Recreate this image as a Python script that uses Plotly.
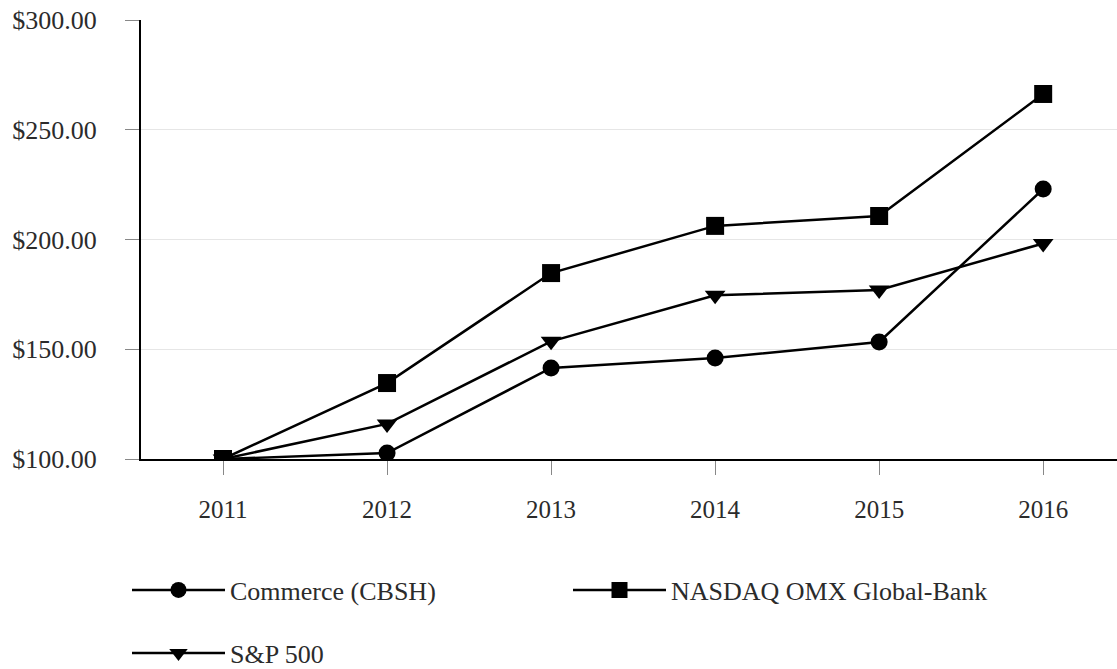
import plotly.graph_objects as go

years = ["2011", "2012", "2013", "2014", "2015", "2016"]
commerce = [100.00, 102.7, 141.5, 146.0, 153.3, 223.0]
nasdaq_bank = [100.00, 134.6, 184.7, 206.2, 210.7, 266.3]
sp500 = [100.00, 116.0, 153.6, 174.6, 177.0, 198.2]

y_ticks = [100, 150, 200, 250, 300]
y_tick_labels = ["$100.00", "$150.00", "$200.00", "$250.00", "$300.00"]

FONT = "Times New Roman, Liberation Serif, DejaVu Serif, serif"
TXT = "#2b2b2b"

fig = go.Figure()
fig.add_trace(go.Scatter(
    x=years, y=commerce, name="Commerce (CBSH)", mode="lines+markers",
    line=dict(color="black", width=2.5),
    marker=dict(symbol="circle", size=17, color="black"),
    legend="legend",
))
fig.add_trace(go.Scatter(
    x=years, y=nasdaq_bank, name="NASDAQ OMX Global-Bank", mode="lines+markers",
    line=dict(color="black", width=2.5),
    marker=dict(symbol="square", size=18, color="black"),
    legend="legend",
))
fig.add_trace(go.Scatter(
    x=years, y=sp500, name="S&P 500", mode="lines+markers",
    line=dict(color="black", width=2.5),
    marker=dict(symbol="triangle-down", size=18, color="black"),
    legend="legend2",
))

LEG_X = 127 / 1117

fig.update_layout(
    width=1117, height=669,
    margin=dict(l=141, r=0, t=20, b=210),
    paper_bgcolor="white", plot_bgcolor="white",
    font=dict(family=FONT, size=25, color=TXT),
    showlegend=True,
    legend=dict(
        orientation="h", xref="container", yref="container",
        x=LEG_X, y=1 - 590 / 669, xanchor="left", yanchor="middle",
        entrywidth=333, entrywidthmode="pixels", itemwidth=93,
        font=dict(family=FONT, size=26, color=TXT),
        bgcolor="rgba(0,0,0,0)", itemclick=False,
    ),
    legend2=dict(
        orientation="h", xref="container", yref="container",
        x=LEG_X, y=1 - 653 / 669, xanchor="left", yanchor="middle",
        itemwidth=93,
        font=dict(family=FONT, size=26, color=TXT),
        bgcolor="rgba(0,0,0,0)", itemclick=False,
    ),
)

fig.update_xaxes(
    type="category", range=[-0.5, 5.45],
    showline=True, linecolor="black", linewidth=2,
    ticks="outside", ticklen=14, tickcolor="#888888", tickwidth=1,
    tickson="labels", ticklabelstandoff=13,
    showgrid=False, zeroline=False,
    tickfont=dict(family=FONT, size=25, color=TXT),
)
fig.update_yaxes(
    range=[100, 300], tickvals=y_ticks, ticktext=y_tick_labels,
    showline=True, linecolor="black", linewidth=2,
    ticks="outside", ticklen=14, tickcolor="#888888", tickwidth=1,
    ticklabelstandoff=23,
    showgrid=True, gridcolor="#e6e6e6", gridwidth=1, zeroline=False,
    tickfont=dict(family=FONT, size=26, color=TXT),
)

fig.write_html("out.html")
